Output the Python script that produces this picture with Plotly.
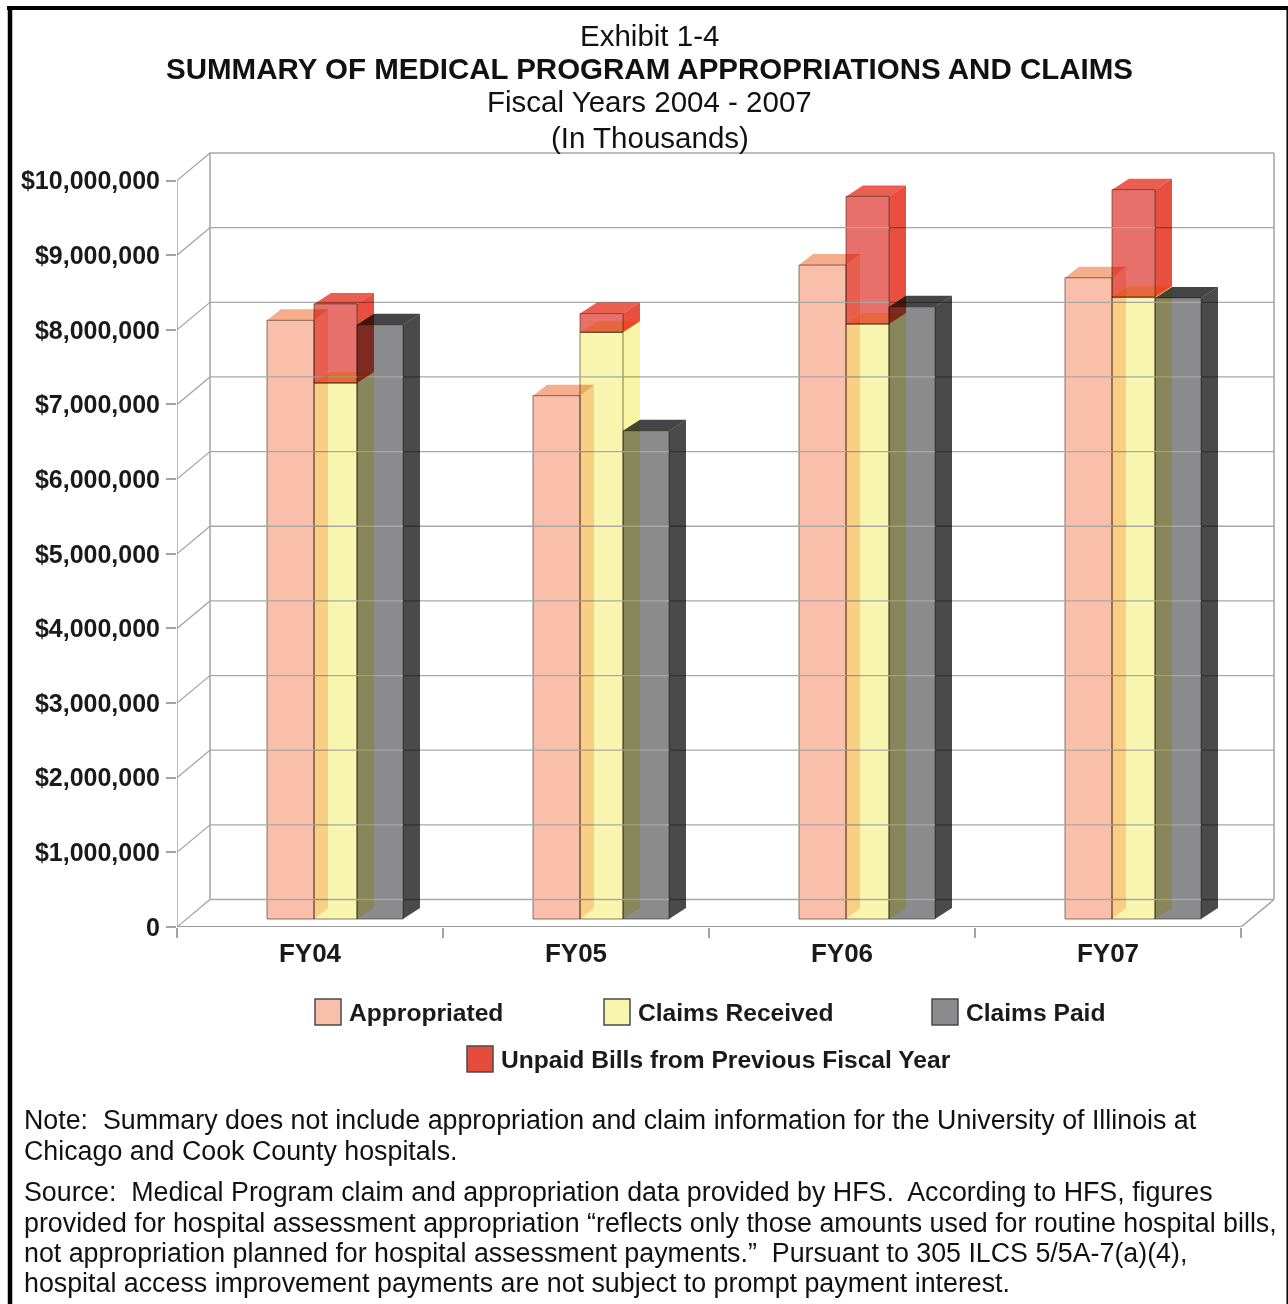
import plotly.graph_objects as go

# ---- data (in thousands of dollars) ----
years = ["FY04", "FY05", "FY06", "FY07"]
appropriated = [8020000, 7010000, 8760000, 8590000]
claims_received = [7180000, 7860000, 7970000, 8330000]
claims_paid = [7960000, 6540000, 8200000, 8320000]
unpaid_bills = [1060000, 250000, 1710000, 1440000]
y_ticks = [0, 1000000, 2000000, 3000000, 4000000, 5000000, 6000000, 7000000, 8000000, 9000000, 10000000]
y_tick_labels = ["0", "$1,000,000", "$2,000,000", "$3,000,000", "$4,000,000", "$5,000,000",
                 "$6,000,000", "$7,000,000", "$8,000,000", "$9,000,000", "$10,000,000"]
title_lines = ["Exhibit 1-4", "<b>SUMMARY OF MEDICAL PROGRAM APPROPRIATIONS AND CLAIMS</b>",
               "Fiscal Years 2004 - 2007", "(In Thousands)"]
note_lines = [
    "Note:  Summary does not include appropriation and claim information for the University of Illinois at",
    "Chicago and Cook County hospitals.",
    "Source:  Medical Program claim and appropriation data provided by HFS.  According to HFS, figures",
    "provided for hospital assessment appropriation “reflects only those amounts used for routine hospital bills,",
    "not appropriation planned for hospital assessment payments.”  Pursuant to 305 ILCS 5/5A-7(a)(4),",
    "hospital access improvement payments are not subject to prompt payment interest.",
]

# ---- geometry / style ----
W, H = 1288, 1304
FONT = "Liberation Sans"
PX_X = 266.0            # pixels per category
PX_Y = 74.65 / 1e6      # pixels per thousand dollars
X0, Y0 = 177, 927       # pixel position of the axes origin
X_END, Y_TOP = 1282, 148
WALL_DX = 33 / PX_X
WALL_DY = 27.5 / PX_Y
BAR_DY = 11 / PX_Y
FLOOR = 8 / PX_Y
EDGE = "rgba(75,55,40,0.65)"
GRID = "#a8a8a8"
FRAME = "#a3a3a3"

SERIES = {
    "Appropriated": dict(off=90 / PX_X, w=47 / PX_X, dx=14 / PX_X, front="#F9BFAA", side="#FFD8C0", top="#F5AD8C"),
    "Claims Received": dict(off=137 / PX_X, w=43 / PX_X, dx=17 / PX_X, front="#F8F5AE", side="#F8F5A5", top="#FFE890"),
    "Claims Paid": dict(off=180 / PX_X, w=46 / PX_X, dx=17 / PX_X, front="#8B8B8D", side="#4A4A4A", top="#454547"),
    "Unpaid Bills from Previous Fiscal Year": dict(off=137 / PX_X, w=43 / PX_X, dx=17 / PX_X, front="#E8706A", side="#E94F3F", top="#EA5F50"),
}

fig = go.Figure()


def poly(xs, ys, color):
    fig.add_trace(go.Scatter(x=xs + xs[:1], y=ys + ys[:1], mode="lines", fill="toself", fillcolor=color,
                             line=dict(width=0), hoverinfo="skip", showlegend=False))


def frame_line(xs, ys, color, width):
    fig.add_trace(go.Scatter(x=xs, y=ys, mode="lines", line=dict(color=color, width=width),
                             hoverinfo="skip", showlegend=False))


n = len(years)
# back wall grid and side wall
gx, gy = [], []
for t in y_ticks:
    gx += [0, WALL_DX, n + WALL_DX, None]
    gy += [t, t + WALL_DY, t + WALL_DY, None]
frame_line(gx, gy, GRID, 1.3)
top = y_ticks[-1]
frame_line([0, 0, None, WALL_DX, WALL_DX, None, n + WALL_DX, n + WALL_DX, None, n, n + WALL_DX],
           [0, top, None, WALL_DY, top + WALL_DY, None, WALL_DY, top + WALL_DY, None, 0, WALL_DY], FRAME, 1.5)
frame_line([0, n], [0, 0], "#9a9a9a", 2)


def add_series(name, values, bases):
    s = SERIES[name]
    fig.add_trace(go.Bar(x=list(range(n)), y=values, base=bases, offset=s["off"], width=s["w"], name=name,
                         marker=dict(color=s["front"], line=dict(color=EDGE, width=1)), showlegend=False))
    d = s["dx"]
    for i in range(n):
        x0 = i + s["off"]
        x1 = x0 + s["w"]
        b = bases[i]
        t = b + values[i]
        poly([x1, x1 + d, x1 + d, x1], [b, b + BAR_DY, t + BAR_DY, t], s["side"])
        poly([x0, x1, x1 + d, x0 + d], [t, t, t + BAR_DY, t + BAR_DY], s["top"])


floor = [FLOOR] * n
add_series("Appropriated", appropriated, floor)
add_series("Claims Paid", claims_paid, floor)
add_series("Claims Received", claims_received, floor)
add_series("Unpaid Bills from Previous Fiscal Year", unpaid_bills, [FLOOR + v for v in claims_received])

annotations, shapes = [], []


def text(x, y, s, size, anchor="left", color="#111111"):
    annotations.append(dict(x=x / W, y=1 - y / H, xref="paper", yref="paper", text=s, showarrow=False,
                            xanchor=anchor, yanchor="middle", align=anchor,
                            font=dict(family=FONT, size=size, color=color)))


for line, y in zip(title_lines, [36, 69, 102, 137]):
    text(649.5, y, line, 29.5, "center")
for line, y in zip(note_lines, [1120, 1150.5, 1192, 1222.5, 1252.5, 1283]):
    text(22, y, line, 26.8)

LEGEND = [("Appropriated", 315, 1012), ("Claims Received", 604, 1012), ("Claims Paid", 932, 1012),
          ("Unpaid Bills from Previous Fiscal Year", 467, 1059)]
for name, lx, ly in LEGEND:
    shapes.append(dict(type="rect", xref="paper", yref="paper", x0=lx / W, x1=(lx + 26) / W,
                       y0=1 - (ly + 13) / H, y1=1 - (ly - 13) / H,
                       fillcolor=SERIES[name]["front"] if name != "Unpaid Bills from Previous Fiscal Year" else "#E64C3C",
                       line=dict(color="#4a4a4a", width=1.5)))
    text(lx + 32, ly, "<b>%s</b>" % name, 24.6, color="#1a1a1a")

# page frame
for x0, y0, x1, y1, wd in [(7, 8, W, 8, 4), (10, 6, 10, H, 4.5), (1287.2, 6, 1287.2, H, 1.5)]:
    shapes.append(dict(type="line", xref="paper", yref="paper", x0=x0 / W, x1=x1 / W,
                       y0=1 - y0 / H, y1=1 - y1 / H, line=dict(color="black", width=wd)))

fig.update_layout(
    width=W, height=H, margin=dict(l=0, r=0, t=0, b=0, autoexpand=False), paper_bgcolor="white",
    plot_bgcolor="rgba(0,0,0,0)",
    barmode="overlay", showlegend=False, annotations=annotations, shapes=shapes,
    xaxis=dict(domain=[X0 / W, X_END / W], range=[0, (X_END - X0) / PX_X], tickmode="array",
               tickvals=[i + 0.5 for i in range(n)], ticktext=["<b>%s</b>" % y for y in years],
               ticks="", showgrid=False, zeroline=False, showline=False, ticklabelstandoff=8,
               tickfont=dict(family=FONT, size=26, color="#1a1a1a"),
               minor=dict(tickmode="array", tickvals=list(range(n + 1)), ticks="outside", ticklen=10,
                          tickcolor=FRAME, tickwidth=1.5, showgrid=False)),
    yaxis=dict(domain=[1 - Y0 / H, 1 - Y_TOP / H], range=[0, (Y0 - Y_TOP) / PX_Y], tickmode="array",
               tickvals=y_ticks, ticktext=["<b>%s</b>" % t for t in y_tick_labels], ticks="outside",
               ticklen=10, tickcolor=FRAME, tickwidth=1.5, showgrid=False, zeroline=False, showline=False,
               ticklabelstandoff=1, tickfont=dict(family=FONT, size=25, color="#1a1a1a")),
)

post = """
var st = document.createElement('style');
st.textContent = 'html,body{margin:0;padding:0;background:#fff} .js-fill, .bars .point path{mix-blend-mode:multiply}';
document.head.appendChild(st);
"""
fig.write_html("out.html", post_script=post, config={"displayModeBar": False})
